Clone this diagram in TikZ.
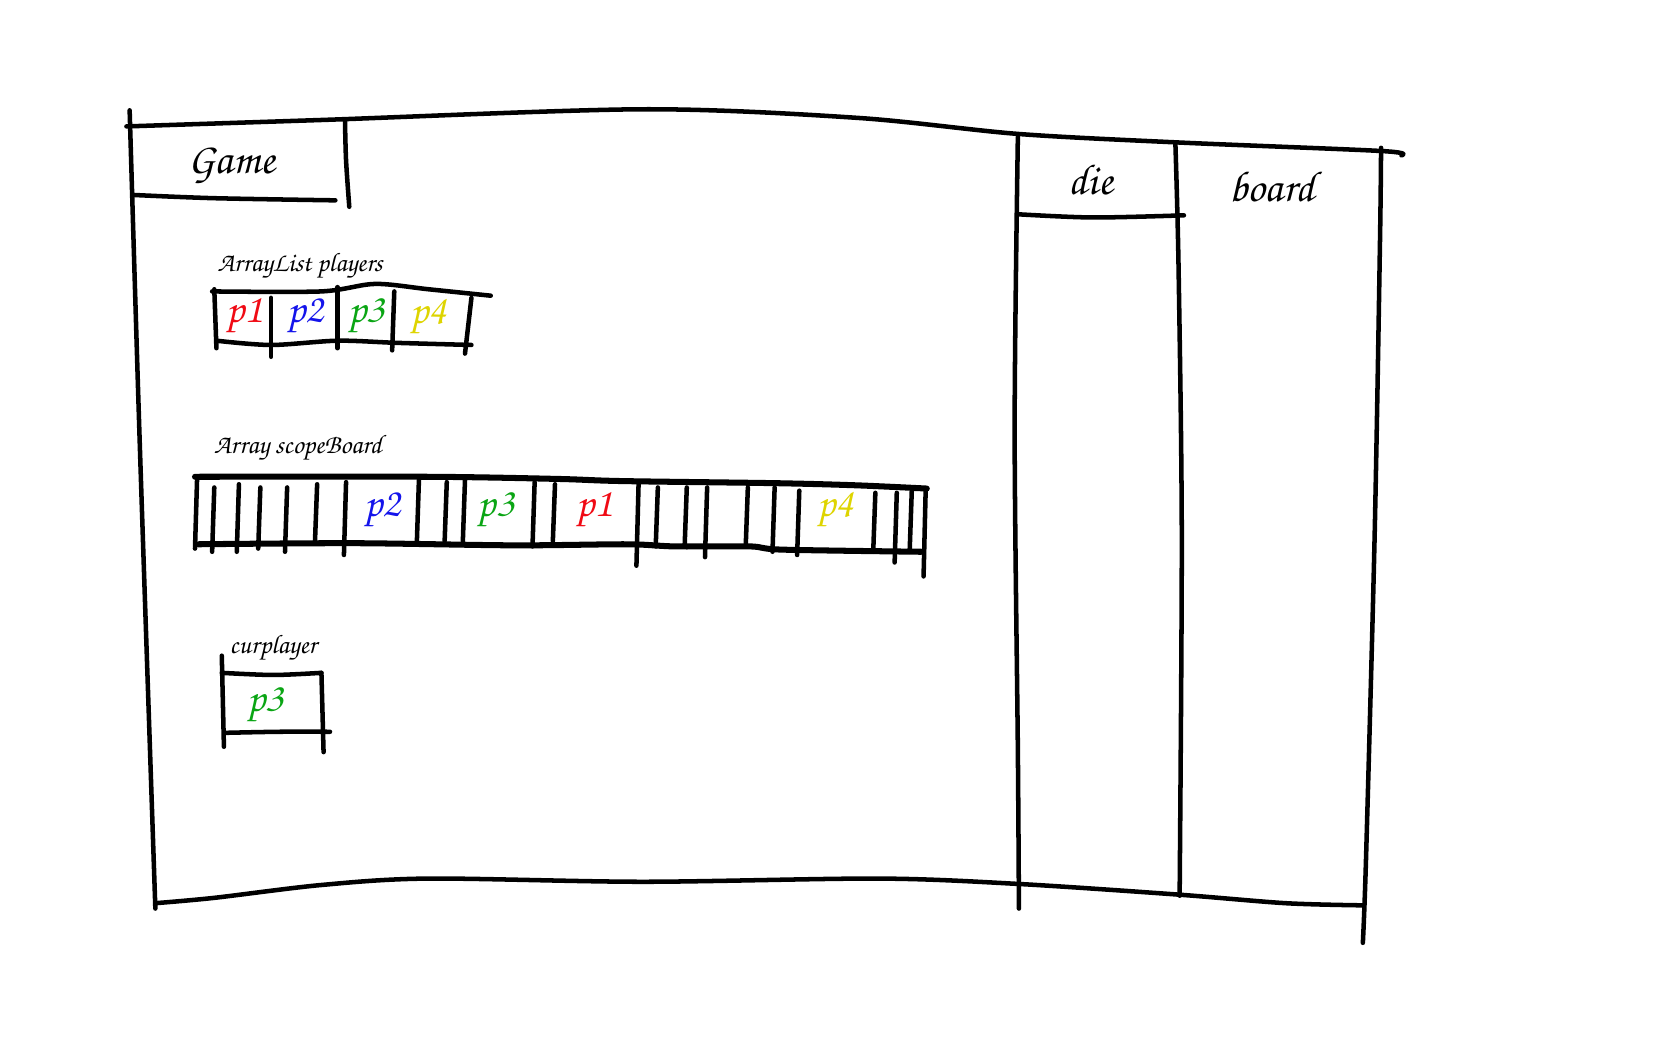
\documentclass[tikz,border=0pt]{standalone}
\usepackage{fontspec}
\newfontfamily\handfont{TeX Gyre Chorus}
\definecolor{penred}{RGB}{240,10,20}
\definecolor{penblue}{RGB}{20,20,235}
\definecolor{pengreen}{RGB}{10,165,20}
\definecolor{penyellow}{RGB}{222,212,0}
\tikzset{
  pen/.style={line width=1.2pt, line cap=round, line join=round},
  title/.style={font=\handfont\fontsize{11.5}{13}\selectfont},
  varname/.style={font=\handfont\fontsize{7.1}{9}\selectfont},
  cell/.style={font=\handfont\fontsize{11}{13}\selectfont},
}
\begin{document}
\begin{tikzpicture}[x=0.01cm, y=-0.01cm]
  \useasboundingbox (0,0) rectangle (1568,980);
  % outer frame
  \draw[pen] plot[smooth] coordinates {(118,118) (300,112) (600,102) (800,110) (950,125) (1100,133) (1290,141) (1308,145)};
  \draw[pen] plot[smooth] coordinates {(121,103) (130,400) (140,700) (145,848)};
  \draw[pen] plot[smooth] coordinates {(145,843) (200,838) (300,826) (400,820) (600,823) (820,820) (950,825) (1100,835) (1200,843) (1272,845)};
  \draw[pen] plot[smooth] coordinates {(950,128) (947,400) (950,700) (951,848)};
  \draw[pen] plot[smooth] coordinates {(1097,133) (1100,250) (1103,500) (1101,836)};
  \draw[pen] plot[smooth] coordinates {(1289,138) (1288,225) (1283,500) (1275,800) (1272,880)};
  \draw[pen] plot[smooth] coordinates {(950,200) (1020,203) (1105,201)};
  % game title box
  \draw[pen] plot[smooth] coordinates {(125,182) (200,185) (313,187)};
  \draw[pen] plot[smooth] coordinates {(322,113) (323,150) (326,193)};
  \node[title] (game) at (216,155) {Game};
  \node[title] (die) at (1018,168) {die};
  \node[title] (board) at (1187,175) {board};
  % players
  \node[varname] (playerslbl) at (280,248) {ArrayList players};
  \draw[pen] plot[smooth] coordinates {(198,272) (300,272) (350,265) (400,270) (458,276)};
  \draw[pen] plot[smooth] coordinates {(202,318) (253,322) (315,318) (370,320) (440,322)};
  \draw[pen] (200,270) -- (202,325);
  \draw[pen] (253,278) -- (253,333);
  \draw[pen] (315,268) -- (315,325);
  \draw[pen] (368,272) -- (366,327);
  \draw[pen] (440,278) -- (434,330);
  \node[cell, text=penred] (pl1) at (228,295) {p1};
  \node[cell, text=penblue] (pl2) at (285,295) {p2};
  \node[cell, text=pengreen] (pl3) at (342,295) {p3};
  \node[cell, text=penyellow] (pl4) at (400,295) {p4};
  % scope board
  \node[varname] (scopelbl) at (278,418) {Array scopeBoard};
  \draw[pen, line width=1.6pt] plot[smooth] coordinates {(182,445) (400,445) (520,447) (580,449) (725,451) (800,453) (865,456)};
  \draw[pen, line width=1.6pt] plot[smooth] coordinates {(185,508) (330,507) (480,509) (585,508) (630,510) (700,510) (730,513) (860,515)};
  \foreach \x/\ya/\yb in {184/445/512, 200/455/515, 223/452/515, 243/455/512, 268/455/515,
      296/452/505, 323/450/518, 391/448/508, 417/450/505, 434/448/505, 499/450/510,
      518/452/505, 596/452/528, 614/455/510, 641/455/510, 660/455/520, 698/455/510,
      723/455/515, 746/458/518, 817/460/515, 837/460/525, 851/458/515, 864/456/538}
    \draw[pen] (\x,\ya) -- (\x-2,\yb);
  \node[cell, text=penblue] (sb2) at (357,476) {p2};
  \node[cell, text=pengreen] (sb3) at (463,476) {p3};
  \node[cell, text=penred] (sb1) at (555,476) {p1};
  \node[cell, text=penyellow] (sb4) at (780,476) {p4};
  % current player
  \node[varname] (curlbl) at (255,605) {curplayer};
  \draw[pen] (207,612) -- (209,697);
  \draw[pen] plot[smooth] coordinates {(207,628) (255,630) (300,628)};
  \draw[pen] (300,628) -- (302,702);
  \draw[pen] plot[smooth] coordinates {(210,684) (260,683) (308,683)};
  \node[cell, text=pengreen] (cur3) at (248,658) {p3};
\end{tikzpicture}
\end{document}
